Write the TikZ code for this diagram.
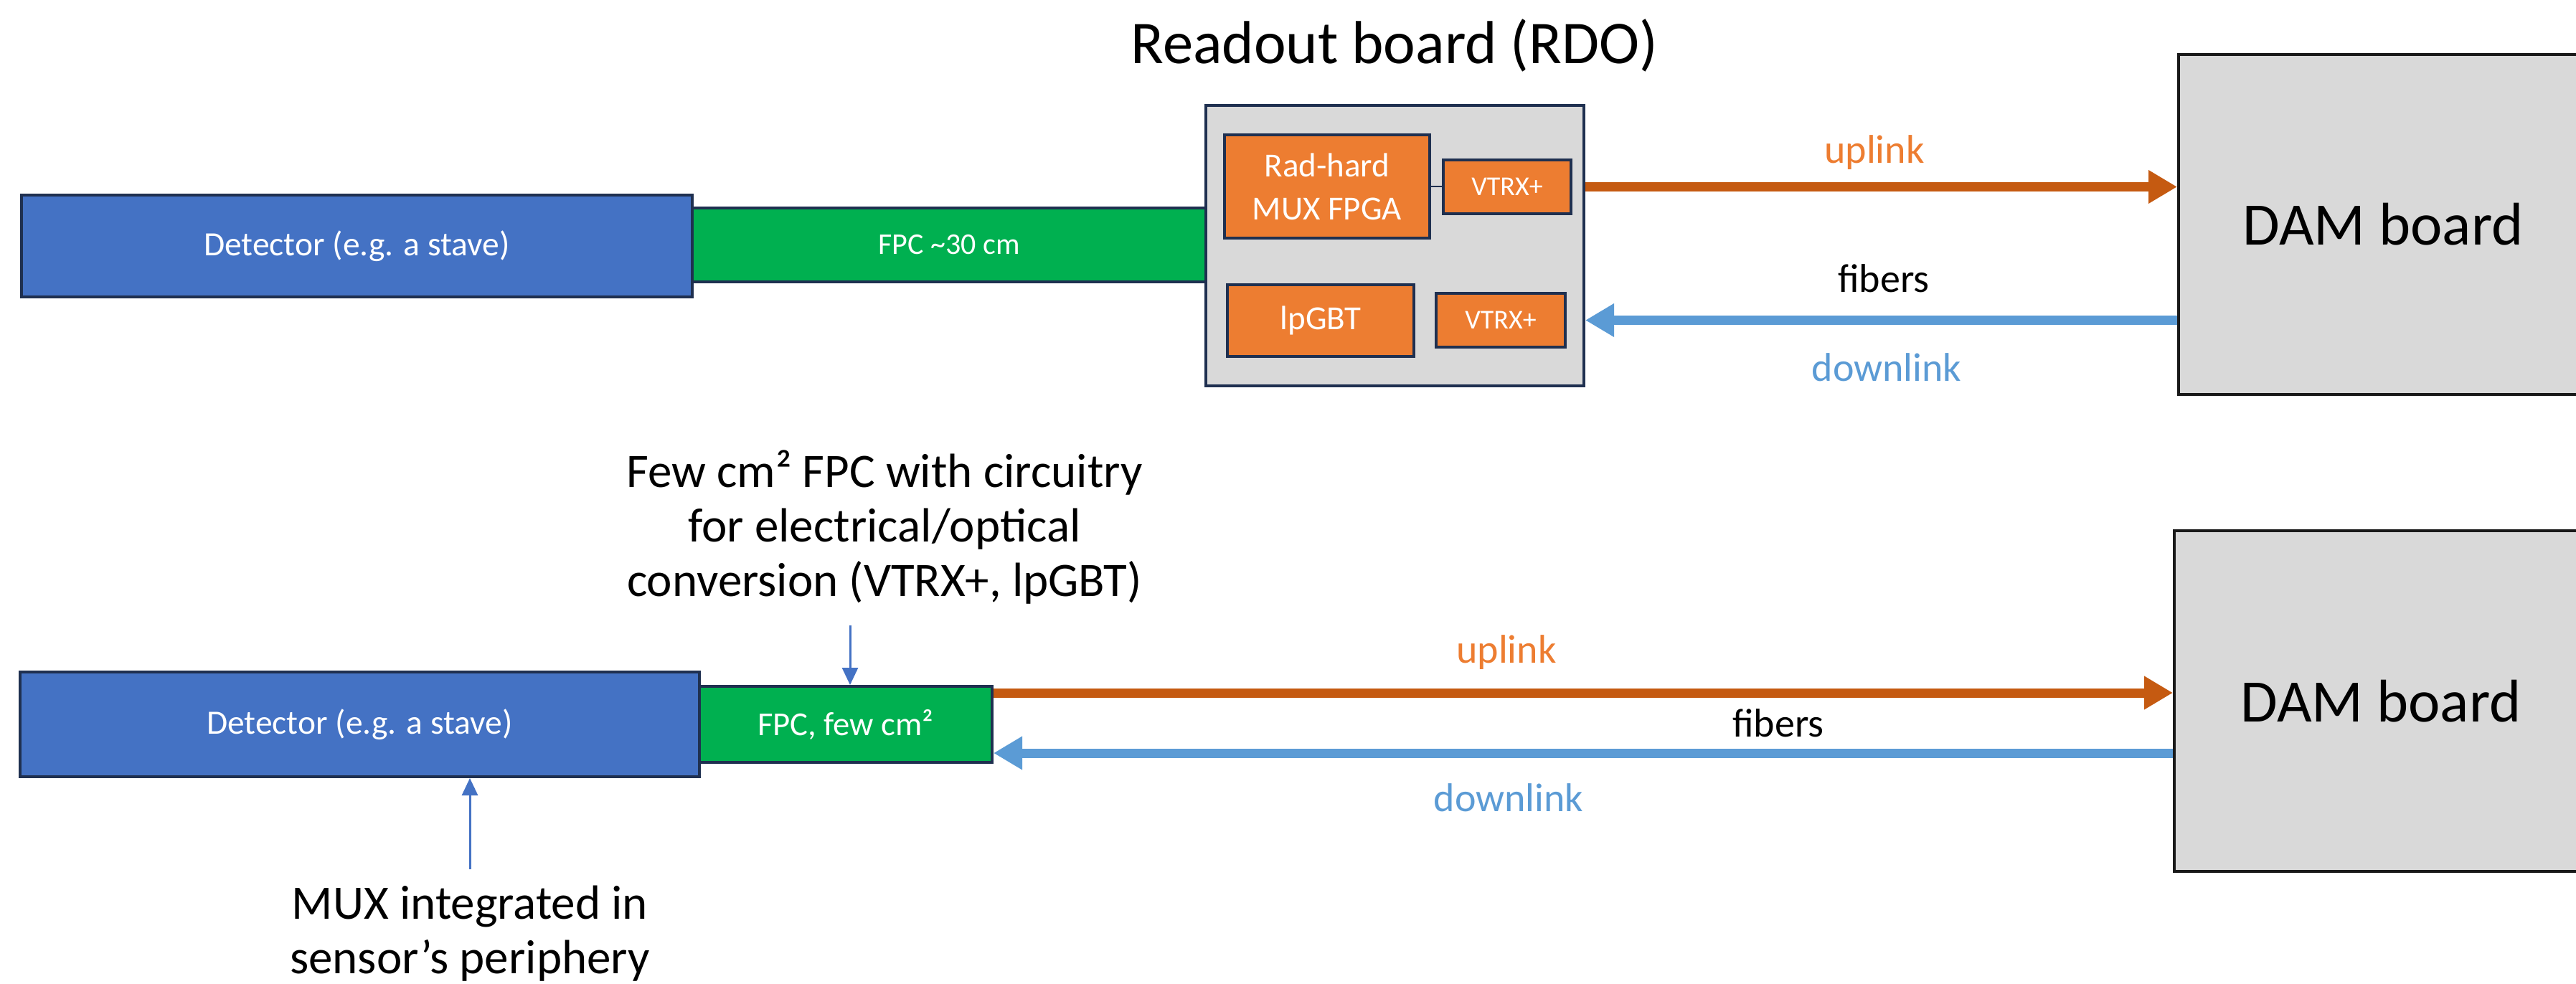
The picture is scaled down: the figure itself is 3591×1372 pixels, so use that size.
\documentclass[tikz,border=0pt]{standalone}
\usepackage{fontspec}
\setmainfont{Carlito}
\usetikzlibrary{arrows.meta}
\definecolor{detblue}{HTML}{4472C4}
\definecolor{fpcgreen}{HTML}{00B050}
\definecolor{chiporange}{HTML}{ED7D31}
\definecolor{navy}{HTML}{1F3050}
\definecolor{boardgray}{HTML}{D9D9D9}
\definecolor{uplinkc}{HTML}{C55A11}
\definecolor{uplabel}{HTML}{ED7D31}
\definecolor{downc}{HTML}{5B9BD5}
\definecolor{annblue}{HTML}{4472C4}
\tikzset{
  bx/.style={rectangle, draw=navy, line width=4pt, inner sep=0pt, text=white, align=center},
  detbox/.style={bx, fill=detblue, font=\fontsize{47.5}{57}\selectfont},
  fpcbox/.style={bx, fill=fpcgreen},
  chip/.style={bx, fill=chiporange},
  rdobox/.style={bx, fill=boardgray},
  dambox/.style={rectangle, draw=black!90, line width=4pt, fill=boardgray, inner sep=0pt, text=black, font=\fontsize{84}{100}\selectfont},
  uparrow/.style={draw=uplinkc, line width=13pt, -{Triangle[width=44pt,length=40pt]}},
  downarrow/.style={draw=downc, line width=13pt, -{Triangle[width=44pt,length=40pt]}},
  annarrow/.style={draw=annblue, line width=3pt, -{Triangle[width=22pt,length=24pt]}},
  linklabel/.style={inner sep=0pt, font=\fontsize{56}{67}\selectfont},
  anntext/.style={inner sep=0pt, align=center, font=\fontsize{67}{76}\selectfont}
}
\begin{document}
\begin{tikzpicture}[x=1pt,y=-1pt]
\useasboundingbox (0,0) rectangle (3591,1372);
\clip (0,0) rectangle (3591,1372);
\fill[white] (0,0) rectangle (3591,1372);

% ---------- top row ----------
\node[inner sep=0pt, font=\fontsize{84.6}{100}\selectfont] (title) at (1944,63) {Readout board (RDO)};
\node[detbox, minimum width=935pt, minimum height=142pt] (det1) at (497.5,343) {Detector (e.g. a stave)};
\node[fpcbox, minimum width=716pt, minimum height=103pt, font=\fontsize{42}{50}\selectfont] (fpc1) at (1323,341.5) {FPC \textasciitilde30 cm};
\node[rdobox, minimum width=527pt, minimum height=391pt] (rdo) at (1944.5,342.5) {};
\node[chip, minimum width=286pt, minimum height=144pt, font=\fontsize{47}{60}\selectfont] (mux) at (1850,260) {Rad-hard\\MUX FPGA};
\node[chip, minimum width=178pt, minimum height=75pt, font=\fontsize{38}{46}\selectfont] (vtx1) at (2101,260.5) {VTRX+};
\node[chip, minimum width=260pt, minimum height=100pt, font=\fontsize{47}{56}\selectfont] (lpgbt) at (1841,447) {lpGBT};
\node[chip, minimum width=180pt, minimum height=75pt, font=\fontsize{38}{46}\selectfont] (vtx2) at (2092,446.5) {VTRX+};
\draw[navy, line width=2pt] (mux.east |- vtx1.west) -- (vtx1.west);
\node[dambox, minimum width=570pt, minimum height=474pt] (dam1) at (3322,313) {DAM board};

\draw[uparrow] (vtx1.east -| rdo.east) -- (vtx1.east -| dam1.west);
\draw[downarrow] (vtx2.east -| dam1.west) -- (vtx2.east -| rdo.east);
\node[linklabel, text=uplabel] (up1) at (2613,213) {uplink};
\node[linklabel] (fib1) at (2626,388) {fibers};
\node[linklabel, text=downc] (dn1) at (2630,512) {downlink};

% ---------- bottom row ----------
\node[detbox, minimum width=947pt, minimum height=146pt] (det2) at (501.5,1010) {Detector (e.g. a stave)};
\node[fpcbox, minimum width=408pt, minimum height=106pt, font=\fontsize{46.7}{56}\selectfont] (fpc2) at (1179,1010) {FPC, few cm²};
\node[dambox, minimum width=576pt, minimum height=475pt] (dam2) at (3319,977.5) {DAM board};

\coordinate (ua) at ([yshift=-11pt]fpc2.north east);
\coordinate (da) at ([yshift=15pt]fpc2.south east);
\draw[uparrow] (ua) -- (ua -| dam2.west);
\draw[downarrow] (da -| dam2.west) -- (da);
\node[linklabel, text=uplabel] (up2) at (2100,910) {uplink};
\node[linklabel] (fib2) at (2479,1008) {fibers};
\node[linklabel, text=downc] (dn2) at (2103,1112) {downlink};

\node[anntext] (ann1) at (1233,735) {Few cm² FPC with circuitry\\for electrical/optical\\conversion (VTRX+, lpGBT)};
\coordinate (ann1tail) at (1185,872);
\draw[annarrow] (ann1tail) -- (ann1tail |- fpc2.north);

\node[anntext] (ann2) at (655,1302) {MUX integrated in\\sensor’s periphery};
\coordinate (ann2tail) at (655,1212);
\draw[annarrow] (ann2tail) -- (ann2tail |- det2.south);
\end{tikzpicture}
\end{document}
